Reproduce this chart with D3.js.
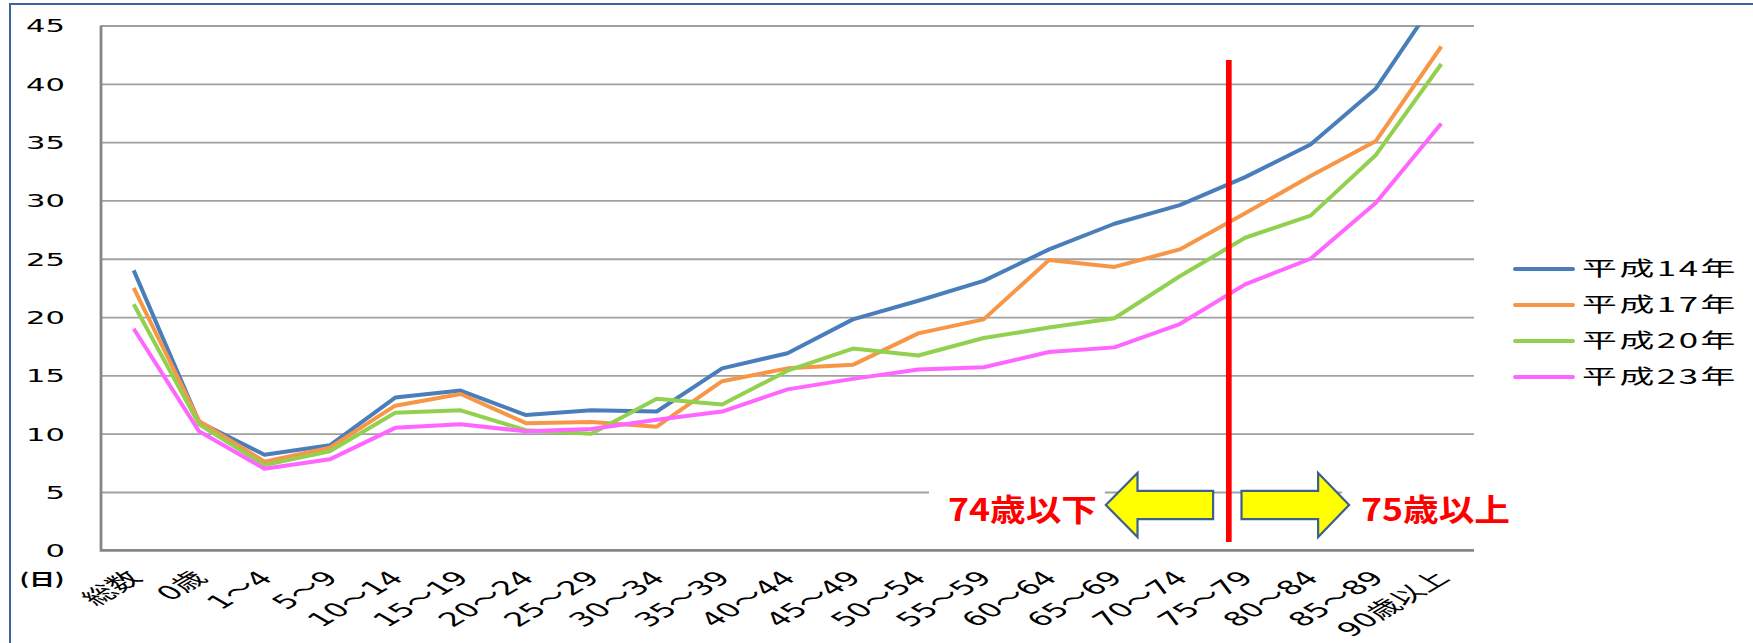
<!DOCTYPE html>
<html>
<head>
<meta charset="utf-8">
<script src="https://cdn.jsdelivr.net/npm/d3@7"></script>
<style>
  body { margin: 0; background: #fff; }
  svg { display: block; }
</style>
</head>
<body>
<svg id="vis" width="1753" height="643"></svg>
<script>
// age groups on the x axis
const categories = ["総数", "0歳", "1～4", "5～9", "10～14", "15～19", "20～24", "25～29",
  "30～34", "35～39", "40～44", "45～49", "50～54", "55～59", "60～64", "65～69",
  "70～74", "75～79", "80～84", "85～89", "90歳以上"];

const seriesNames = ["平成14年", "平成17年", "平成20年", "平成23年"];

// days
const h14 = [24.0, 11.0, 8.2, 9.0, 13.1, 13.7, 11.6, 12.0, 11.9, 15.6, 16.9, 19.8, 21.4, 23.1, 25.8, 28.0, 29.6, 32.0, 34.8, 39.6, 47.9];
const h17 = [22.5, 11.1, 7.6, 8.8, 12.4, 13.4, 10.9, 11.0, 10.6, 14.5, 15.6, 15.9, 18.6, 19.8, 24.9, 24.3, 25.8, 28.9, 32.1, 35.1, 43.2];
const h20 = [21.1, 10.8, 7.3, 8.5, 11.8, 12.0, 10.3, 10.0, 13.0, 12.5, 15.4, 17.3, 16.7, 18.2, 19.1, 19.9, 23.5, 26.8, 28.7, 33.9, 41.7];
const h23 = [19.0, 10.2, 7.0, 7.8, 10.5, 10.8, 10.2, 10.4, 11.2, 11.9, 13.8, 14.7, 15.5, 15.7, 17.0, 17.4, 19.4, 22.8, 25.0, 29.8, 36.6];

const yTicks = [0, 5, 10, 15, 20, 25, 30, 35, 40, 45];
const unitLabel = "(日)";
const sideLabels = ["74歳以下", "75歳以上"];

const colors = ["#4a7ebb", "#f79646", "#92d050", "#ff66ff"];

function drawChart() {
  const svg = d3.select("svg#vis");

  // the source picture is stretched sideways, so text is stretched too
  const sx = 1.7;
  const plot = { left: 101, right: 1474, top: 25.5, bottom: 550.3 };

  const x = d3.scalePoint()
    .domain(categories)
    .range([plot.left, plot.right])
    .padding(0.5);

  const y = d3.scaleLinear()
    .domain([0, 45])
    .range([plot.bottom, plot.top]);

  // outer frame
  svg.append("rect")
    .attr("x", 10).attr("y", 4)
    .attr("width", 1800).attr("height", 700)
    .attr("fill", "none")
    .attr("stroke", "#3e64a0")
    .attr("stroke-width", 2);

  // grid lines
  const grid = svg.append("g")
    .attr("transform", translate(plot.left, 0))
    .call(d3.axisLeft(y).tickValues(yTicks.slice(1)).tickSize(-(plot.right - plot.left)).tickFormat(""));
  grid.select(".domain").remove();
  grid.selectAll(".tick line").attr("stroke", "#a0a0a0").attr("stroke-width", 1.8);

  // y axis labels
  const yAxis = svg.append("g")
    .attr("transform", translate(plot.left, 0))
    .call(d3.axisLeft(y).tickValues(yTicks).tickSize(0).tickPadding(0));
  yAxis.select(".domain").remove();
  yAxis.selectAll(".tick text")
    .attr("x", -36 / sx)
    .attr("dy", "0.36em")
    .attr("text-anchor", "end")
    .attr("transform", "scale(" + sx + ",1)")
    .attr("fill", "#000")
    .style("font-family", "'DejaVu Sans', sans-serif")
    .style("font-size", "18px");

  // x axis labels
  const xAxis = svg.append("g")
    .attr("transform", translate(0, plot.bottom))
    .call(d3.axisBottom(x).tickSize(0).tickPadding(0));
  xAxis.select(".domain").remove();
  xAxis.selectAll(".tick text")
    .attr("y", 0)
    .attr("dy", "0.35em")
    .attr("text-anchor", "end")
    .attr("transform", "translate(1,24) scale(" + sx + ",1) rotate(-45)")
    .attr("fill", "#000")
    .style("font-family", "'DejaVu Sans', 'Noto Sans CJK JP', sans-serif")
    .style("font-size", "19.5px");

  // axis lines
  svg.append("path")
    .attr("d", "M" + plot.left + "," + plot.top + "V" + plot.bottom + "H" + plot.right)
    .attr("fill", "none")
    .attr("stroke", "#868686")
    .attr("stroke-width", 2.8);

  // unit label
  svg.append("text")
    .attr("transform", translate(42, 585) + " scale(1.6,1)")
    .attr("text-anchor", "middle")
    .style("font-family", "'Noto Sans CJK JP', sans-serif")
    .style("font-size", "16px")
    .style("font-weight", "bold")
    .text(unitLabel);

  // lines, clipped to the plot area
  svg.append("clipPath").attr("id", "clip")
    .append("rect")
    .attr("x", plot.left).attr("y", plot.top)
    .attr("width", plot.right - plot.left).attr("height", plot.bottom - plot.top);

  const series = [h14, h17, h20, h23].map(function(values, i) {
    return { name: seriesNames[i], color: colors[i], values: values };
  });

  const line = d3.line()
    .x((d, i) => x(categories[i]))
    .y(d => y(d));

  svg.append("g").attr("clip-path", "url(#clip)")
    .selectAll("path.series")
    .data(series)
    .enter()
    .append("path")
    .attr("class", "series")
    .attr("d", d => line(d.values))
    .attr("fill", "none")
    .attr("stroke", d => d.color)
    .attr("stroke-width", 4)
    .attr("stroke-linejoin", "round");

  // legend
  const legend = svg.append("g").selectAll("g")
    .data(series)
    .enter()
    .append("g")
    .attr("transform", (d, i) => translate(0, 269 + i * 36));

  legend.append("line")
    .attr("x1", 1515).attr("x2", 1573)
    .attr("stroke", d => d.color)
    .attr("stroke-width", 4)
    .attr("stroke-linecap", "round");

  legend.append("text")
    .attr("transform", translate(1582, 0) + " scale(" + sx + ",1)")
    .attr("dy", "0.36em")
    .style("font-family", "'Noto Sans CJK JP', sans-serif")
    .style("font-size", "20.5px")
    .style("letter-spacing", "1.5px")
    .text(d => d.name);

  // 74 / 75 boundary between the two age groups
  const step = x.step();
  const divX = x("70～74") + step * 0.75;

  svg.append("rect")
    .attr("x", 929).attr("y", 480)
    .attr("width", divX - 124 - 929).attr("height", 54)
    .attr("fill", "#fff");
  svg.append("rect")
    .attr("x", divX + 113).attr("y", 480)
    .attr("width", 180).attr("height", 54)
    .attr("fill", "#fff");

  svg.append("line")
    .attr("x1", divX).attr("x2", divX)
    .attr("y1", 60).attr("y2", 542)
    .attr("stroke", "#ff0000")
    .attr("stroke-width", 5.7);

  const ay = 505, head = 32, shaft = 14.2;
  const leftArrow = [
    [divX - 123, ay], [divX - 91.3, ay - head], [divX - 91.3, ay - shaft],
    [divX - 15.7, ay - shaft], [divX - 15.7, ay + shaft], [divX - 91.3, ay + shaft],
    [divX - 91.3, ay + head]
  ];
  const rightArrow = [
    [divX + 12.7, ay - shaft], [divX + 89.3, ay - shaft], [divX + 89.3, ay - head],
    [divX + 120.3, ay], [divX + 89.3, ay + head], [divX + 89.3, ay + shaft],
    [divX + 12.7, ay + shaft]
  ];
  svg.selectAll("path.arrow")
    .data([leftArrow, rightArrow])
    .enter()
    .append("path")
    .attr("class", "arrow")
    .attr("d", d => "M" + d.join("L") + "Z")
    .attr("fill", "#ffff00")
    .attr("stroke", "#3d5f8e")
    .attr("stroke-width", 2.2)
    .attr("stroke-linejoin", "miter");

  svg.selectAll("text.side")
    .data(sideLabels)
    .enter()
    .append("text")
    .attr("class", "side")
    .attr("transform", (d, i) => translate(i === 0 ? 948 : 1361, 521) + " scale(1.15,1)")
    .attr("fill", "#ff0000")
    .style("font-family", "'Noto Sans CJK JP', sans-serif")
    .style("font-size", "31px")
    .style("font-weight", "bold")
    .text(d => d);

  function translate(x, y) {
    return "translate(" + String(x) + "," + String(y) + ")";
  }
}

drawChart();
</script>
</body>
</html>
